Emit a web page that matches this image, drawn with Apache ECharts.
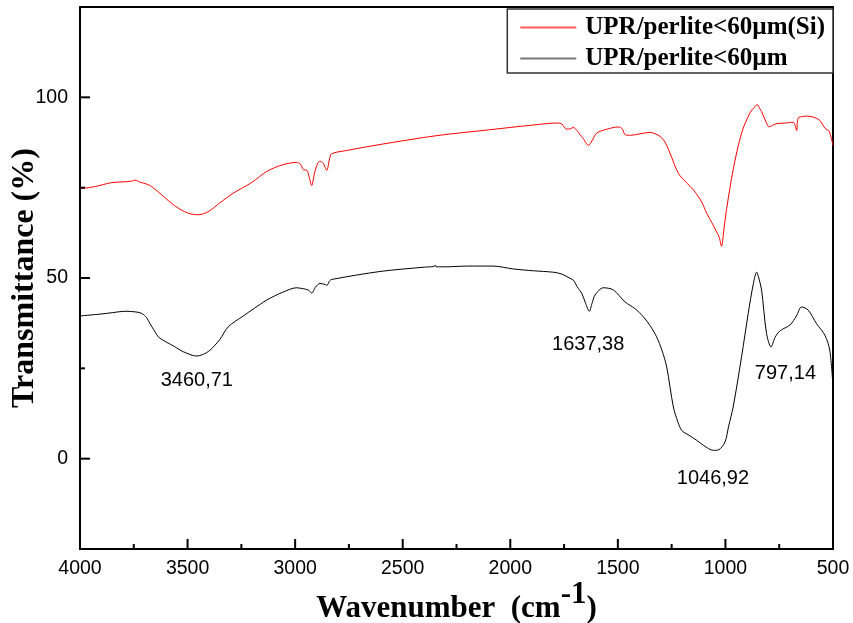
<!DOCTYPE html>
<html>
<head>
<meta charset="utf-8">
<script src="https://cdn.jsdelivr.net/npm/echarts@6/dist/echarts.min.js"></script>
<style>html,body{margin:0;padding:0;background:#fff}#c{width:853px;height:623px}</style>
</head>
<body>
<div id="c"></div>
<script>
// ---- data ----
const seriesNames = ['UPR/perlite<60µm(Si)', 'UPR/perlite<60µm'];

const redWn = [4000,3930,3853,3800,3760,3744,3720,3690,3667,3620,3560,3500,3450,3400,3350,3287,3200,3132,3060,2993,2975,2962,2945,2935,2923,2910,2895,2884,2870,2853,2840,2830,2760,2600,2342,2100,1900,1777,1760,1738,1720,1707,1690,1676,1660,1637,1620,1598,1550,1498,1480,1465,1440,1397,1351,1304,1280,1258,1219,1180,1149,1110,1087,1060,1046,1030,1018,1008,995,964,925,886,860,852,840,832,810,797,780,762,720,685,675,669,662,640,623,590,561,538,518,500];
const redT = [74.7,75.3,76.4,76.6,76.8,77.1,76.5,76.0,75.3,73.0,70.0,68.0,67.5,68.5,70.8,73.5,76.5,79.5,81.3,82.0,81.5,80.0,79.8,78.0,75.6,79.0,81.8,82.3,81.8,79.8,83.0,84.4,85.3,87.0,89.4,91.0,92.3,92.9,92.6,91.2,91.3,91.7,90.8,89.7,88.5,86.7,88.0,90.1,91.2,91.8,91.3,89.6,89.5,89.9,90.3,89.2,87.5,84.6,79.0,76.3,74.4,71.0,67.9,65.0,63.3,61.5,58.8,63.0,68.9,80.0,90.1,95.7,97.6,98.0,96.8,96.1,93.0,91.8,92.3,92.7,92.9,93.1,92.0,90.8,94.3,94.7,94.8,94.5,93.6,91.5,90.6,86.7];

const blackWn = [4000,3907,3850,3791,3740,3713,3690,3675,3650,3636,3600,3560,3520,3458,3430,3396,3350,3311,3241,3190,3132,3060,2993,2960,2945,2935,2923,2905,2884,2860,2853,2840,2830,2606,2400,2355,2350,2345,2296,2200,2079,1986,1893,1800,1761,1722,1707,1684,1668,1650,1633,1620,1606,1568,1521,1467,1420,1382,1350,1320,1295,1273,1242,1220,1203,1170,1134,1100,1056,1030,1002,985,964,925,894,870,855,845,832,809,788,770,746,700,670,646,615,577,538,515,500];
const blackT = [39.5,40.0,40.4,40.8,40.6,40.2,39.0,37.4,35.0,33.7,32.3,31.0,29.6,28.4,28.8,30.0,33.0,36.5,39.5,41.6,43.9,46.0,47.3,47.0,46.8,46.5,45.8,47.5,48.5,48.2,47.9,49.2,49.6,51.8,53.0,53.2,53.6,53.1,53.1,53.3,53.3,52.5,52.0,51.6,51.1,49.9,49.4,47.1,45.8,43.0,40.8,43.0,45.3,47.3,46.7,43.4,41.5,39.3,36.8,33.7,30.0,25.4,14.3,10.0,7.8,6.5,5.1,3.6,2.3,2.5,4.6,9.0,14.3,28.2,40.2,48.5,51.6,50.0,46.7,34.7,30.9,33.5,35.4,37.0,39.5,42.0,41.1,37.4,34.2,30.0,19.9];

// peak annotations: text, anchor wavenumber, anchor transmittance
const peakTexts = ['3460,71', '1637,38', '1046,92', '797,14'];
const peakWn = [3457, 1638, 1058, 721];
const peakT = [21.7, 31.7, -5.5, 23.7];

// axis ticks
const xMajorTicks = [4000, 3500, 3000, 2500, 2000, 1500, 1000, 500];
const xMinorTicks = [3750, 3250, 2750, 2250, 1750, 1250, 750];
const yMajor = [0, 50, 100];
const yMinor = [25, 75];
const xRange = {min: 500, max: 4000, step: 500};
const yRange = {min: -25, max: 125};

// ---- chart ----
const zip = (a, b) => a.map((v, i) => [v, b[i]]);
const chart = echarts.init(document.getElementById('c'), null, {renderer: 'canvas'});
const sans = 'Liberation Sans, Arial, sans-serif';
const serif = 'Liberation Serif, Times New Roman, serif';

// tick marks drawn through the axis scales: [x, y, isMajor, isYAxisTick]
const tickData = [].concat(
  xMajorTicks.map(v => [v, yRange.min, 1, 0]),
  xMinorTicks.map(v => [v, yRange.min, 0, 0]),
  yMajor.map(v => [xRange.max, v, 1, 1]),
  yMinor.map(v => [xRange.max, v, 0, 1])
);

chart.setOption({
  animation: false,
  backgroundColor: '#fff',
  grid: {left: 80, right: 20, top: 7, bottom: 74, outerBoundsMode: 'none',
         show: true, borderColor: '#000', borderWidth: 2},
  legend: {
    orient: 'vertical', right: 20, top: 9,
    backgroundColor: '#fff',
    borderColor: '#333', borderWidth: 1.5,
    padding: [6, 8, 2, 13],
    itemGap: 6, itemWidth: 56, itemHeight: 2,
    icon: 'rect',
    textStyle: {fontFamily: serif, fontWeight: 'bold', fontSize: 25, color: '#000', padding: [0, 0, 0, 4]},
    data: [
      {name: seriesNames[0], itemStyle: {color: '#ff5a5a'}},
      {name: seriesNames[1], itemStyle: {color: '#777777'}}
    ]
  },
  xAxis: {
    type: 'value', inverse: true,
    min: xRange.min, max: xRange.max, interval: xRange.step,
    axisLine: {show: false, onZero: false},
    axisTick: {show: false},
    minorTick: {show: false},
    splitLine: {show: false},
    axisLabel: {color: '#000', fontFamily: sans, fontSize: 19.5, margin: 10, formatter: v => String(v)},
    name: '{a|Wavenumber  (cm}{s|-1}{a|)}',
    nameLocation: 'middle', nameGap: 30, nameMoveOverlap: false,
    nameTextStyle: {
      rich: {
        a: {fontFamily: serif, fontWeight: 'bold', fontSize: 31, color: '#000', lineHeight: 60},
        s: {fontFamily: serif, fontWeight: 'bold', fontSize: 31, color: '#000', lineHeight: 31, verticalAlign: 'top'}
      }
    }
  },
  yAxis: {
    type: 'value', min: yRange.min, max: yRange.max, interval: 25,
    axisLine: {show: false, onZero: false},
    axisTick: {show: false},
    splitLine: {show: false},
    axisLabel: {color: '#000', fontFamily: sans, fontSize: 19.5, margin: 12, customValues: yMajor},
    name: 'Transmittance (%)', nameLocation: 'middle', nameGap: 39, nameRotate: 90, nameMoveOverlap: false,
    nameTextStyle: {fontFamily: serif, fontWeight: 'bold', fontSize: 32, color: '#000'}
  },
  series: [{
    name: seriesNames[0], type: 'line', showSymbol: false, symbol: 'none',
    data: zip(redWn, redT), smooth: 0.3,
    lineStyle: {color: '#ff0000', width: 1}, itemStyle: {color: '#ff0000'}
  }, {
    name: seriesNames[1], type: 'line', showSymbol: false, symbol: 'none',
    data: zip(blackWn, blackT), smooth: 0.3,
    lineStyle: {color: '#000', width: 1}, itemStyle: {color: '#000'},
    markPoint: {
      symbol: 'circle', symbolSize: 1,
      itemStyle: {color: 'transparent'},
      label: {show: true, position: 'inside', formatter: '{b}', color: '#000', fontFamily: sans, fontSize: 20},
      data: peakTexts.map((t, i) => ({name: t, coord: [peakWn[i], peakT[i]]}))
    }
  }, {
    name: 'ticks', type: 'custom', silent: true, clip: false, z: 10,
    encode: {x: 0, y: 1},
    data: tickData,
    renderItem: (params, api) => {
      const p = api.coord([api.value(0), api.value(1)]);
      const len = api.value(2) === 1 ? 10 : 5;
      const isY = api.value(3) === 1;
      return {
        type: 'line',
        shape: isY ? {x1: p[0], y1: p[1], x2: p[0] + len, y2: p[1]}
                   : {x1: p[0], y1: p[1], x2: p[0], y2: p[1] - len},
        style: {stroke: '#000', lineWidth: 2}
      };
    }
  }]
});
</script>
</body>
</html>
